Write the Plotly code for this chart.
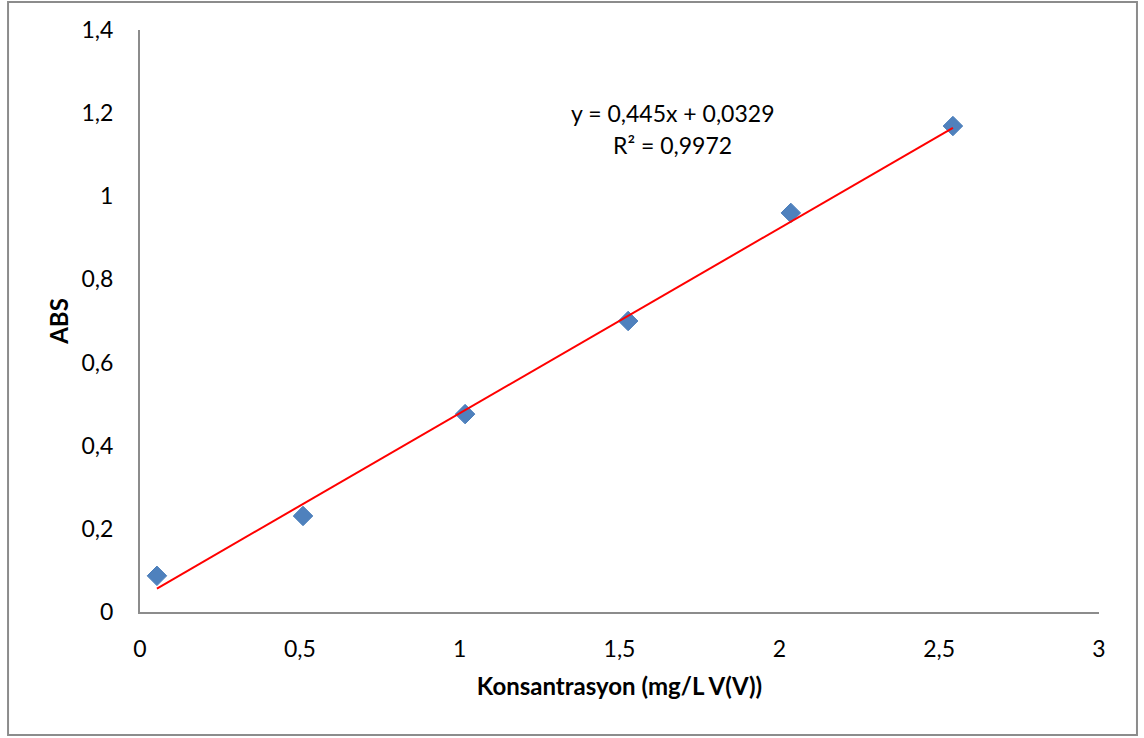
import plotly.graph_objects as go

# Calibration data: concentration vs absorbance
konsantrasyon = [0.053, 0.51, 1.017, 1.527, 2.036, 2.543]
abs_values = [0.087, 0.231, 0.476, 0.700, 0.960, 1.169]

# Linear fit reported on the chart
slope = 0.445
intercept = 0.0329
r_squared = 0.9972

x_fit = [min(konsantrasyon), max(konsantrasyon)]
y_fit = [slope * x + intercept for x in x_fit]

FONT = "Lato"
FS = 24

fig = go.Figure()

fig.add_trace(go.Scatter(
    x=konsantrasyon, y=abs_values, mode="markers",
    marker=dict(symbol="diamond", size=15, color="#4F81BD",
                line=dict(width=1, color="#4A7EBB")),
    showlegend=False,
))

fig.add_trace(go.Scatter(
    x=x_fit, y=y_fit, mode="lines",
    line=dict(color="#FF0000", width=2),
    showlegend=False,
))

eq_text = f"y = {slope:.3f}x + {intercept:.4f}".replace(".", ",")
r2_text = f"R² = {r_squared:.4f}".replace(".", ",")

fig.add_annotation(x=1.665, y=1.2, xref="x", yref="y", text=eq_text,
                   showarrow=False, font=dict(family=FONT, size=FS - 1, color="#000"))
fig.add_annotation(x=1.665, y=1.123, xref="x", yref="y", text=r2_text,
                   showarrow=False, font=dict(family=FONT, size=FS - 1, color="#000"))

# Chart area border
fig.add_shape(type="rect", xref="paper", yref="paper",
              x0=-0.1376, x1=1.0396, y0=-0.2113, y1=1.048,
              line=dict(color="#8C8C8C", width=2), fillcolor="rgba(0,0,0,0)",
              layer="below")

fig.update_layout(
    width=1144, height=738,
    margin=dict(l=140, r=45, t=30, b=126),
    paper_bgcolor="white", plot_bgcolor="white",
    separators=", ",
    font=dict(family=FONT, size=FS, color="#000"),
    xaxis=dict(
        range=[0, 3], dtick=0.5, tick0=0,
        showgrid=False, zeroline=False,
        showline=True, linecolor="#8C8C8C", linewidth=2,
        ticks="", ticklabelstandoff=15,
        tickfont=dict(family=FONT, size=FS - 1),
        title=dict(text="<b>Konsantrasyon (mg/L V(V))</b>",
                   font=dict(family=FONT, size=FS), standoff=18),
    ),
    yaxis=dict(
        range=[0, 1.4], dtick=0.2, tick0=0,
        showgrid=False, zeroline=False,
        showline=True, linecolor="#8C8C8C", linewidth=2,
        ticks="", ticklabelstandoff=20,
        tickfont=dict(family=FONT, size=FS - 1),
        title=dict(text="<b>ABS</b>",
                   font=dict(family=FONT, size=FS), standoff=6),
    ),
)

fig.write_html("out.html")
